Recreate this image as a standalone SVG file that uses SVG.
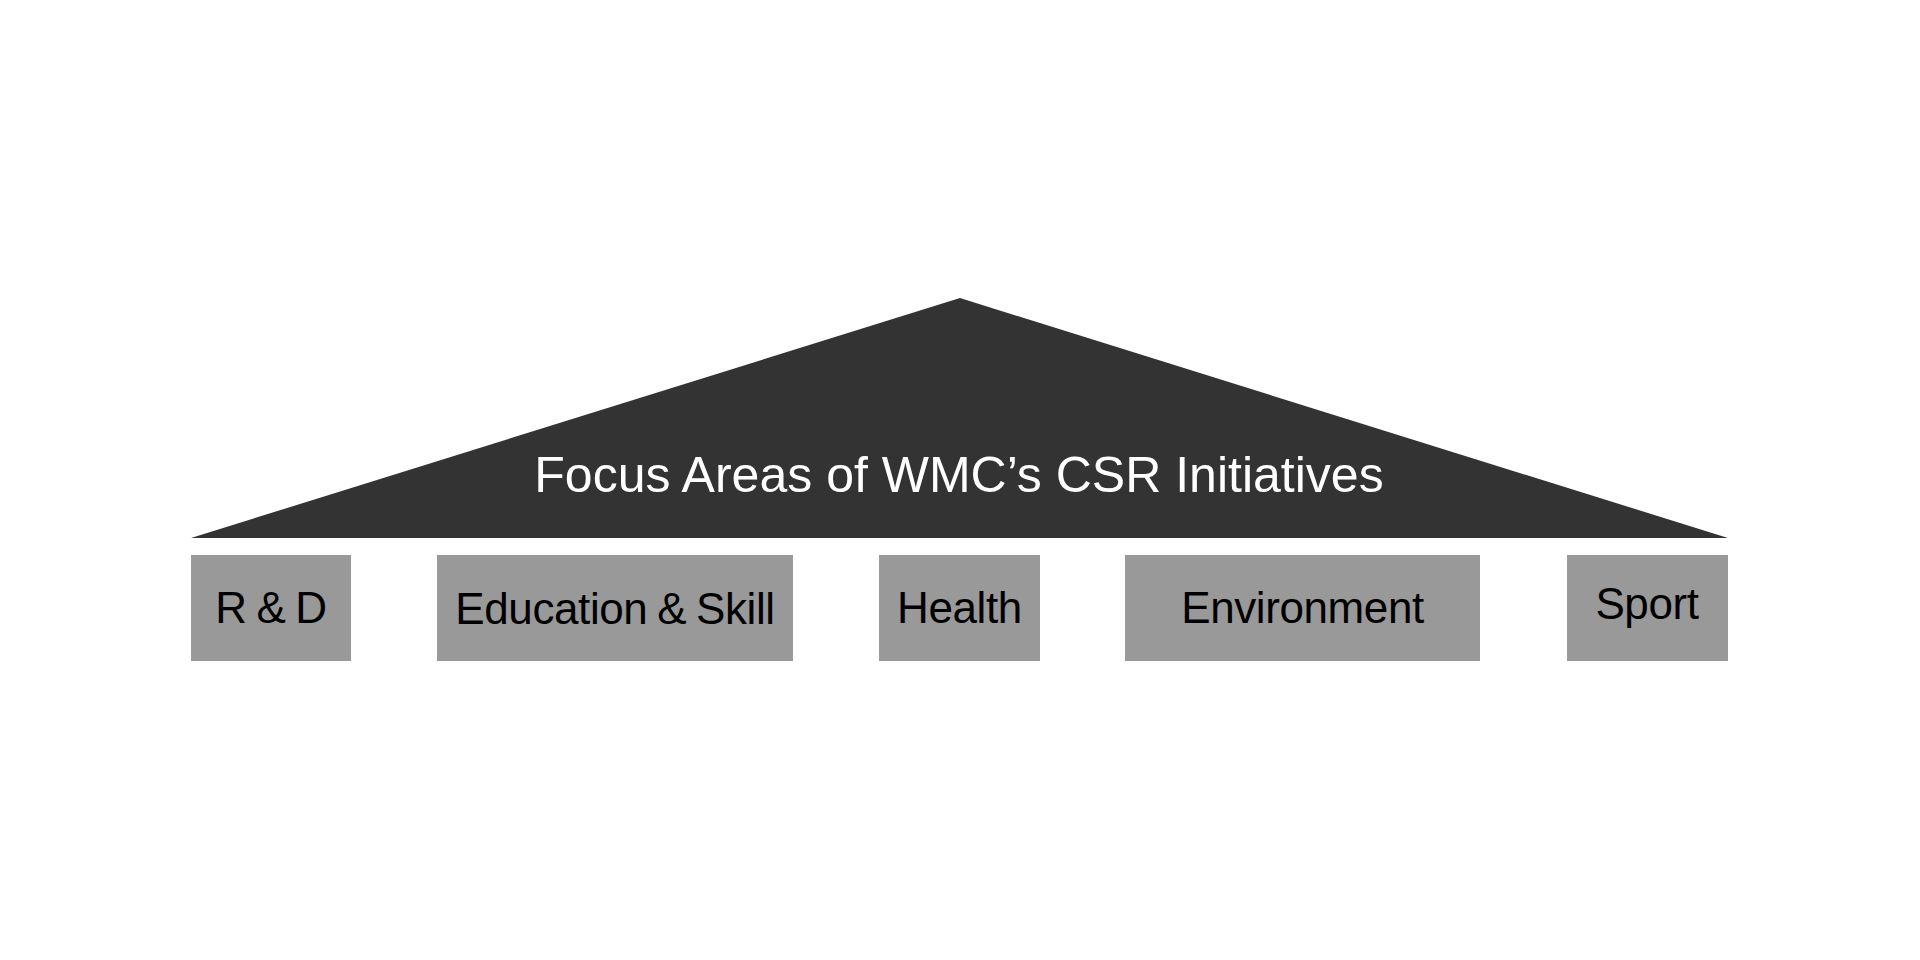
<svg xmlns="http://www.w3.org/2000/svg" width="1920" height="960" viewBox="0 0 1920 960">
<style>
.box{fill:#999999}
.lbl{font-family:"Liberation Sans",Arial,Helvetica,sans-serif;font-size:44px;fill:#000000;text-anchor:middle;letter-spacing:-0.4px;word-spacing:-2px}
.title{font-family:"Liberation Sans",Arial,Helvetica,sans-serif;font-size:50px;fill:#ffffff;text-anchor:middle}
</style>
<rect width="1920" height="960" fill="#ffffff"/>
<g id="roof">
<polygon points="960,298 191,538 1728,538" fill="#333333"/>
<text class="title" x="959" y="492">Focus Areas of WMC’s CSR Initiatives</text>
</g>
<g id="rd">
<rect class="box" x="191" y="555" width="160" height="106"/>
<text class="lbl" x="271" y="623">R &amp; D</text>
</g>
<g id="education">
<rect class="box" x="437" y="555" width="356" height="106"/>
<text class="lbl" x="615" y="624">Education &amp; Skill</text>
</g>
<g id="health">
<rect class="box" x="879" y="555" width="161" height="106"/>
<text class="lbl" x="959.5" y="623">Health</text>
</g>
<g id="environment">
<rect class="box" x="1125" y="555" width="355" height="106"/>
<text class="lbl" x="1302.5" y="623">Environment</text>
</g>
<g id="sport">
<rect class="box" x="1567" y="555" width="161" height="106"/>
<text class="lbl" x="1647" y="619">Sport</text>
</g>
<g id="connectors"></g>
</svg>
